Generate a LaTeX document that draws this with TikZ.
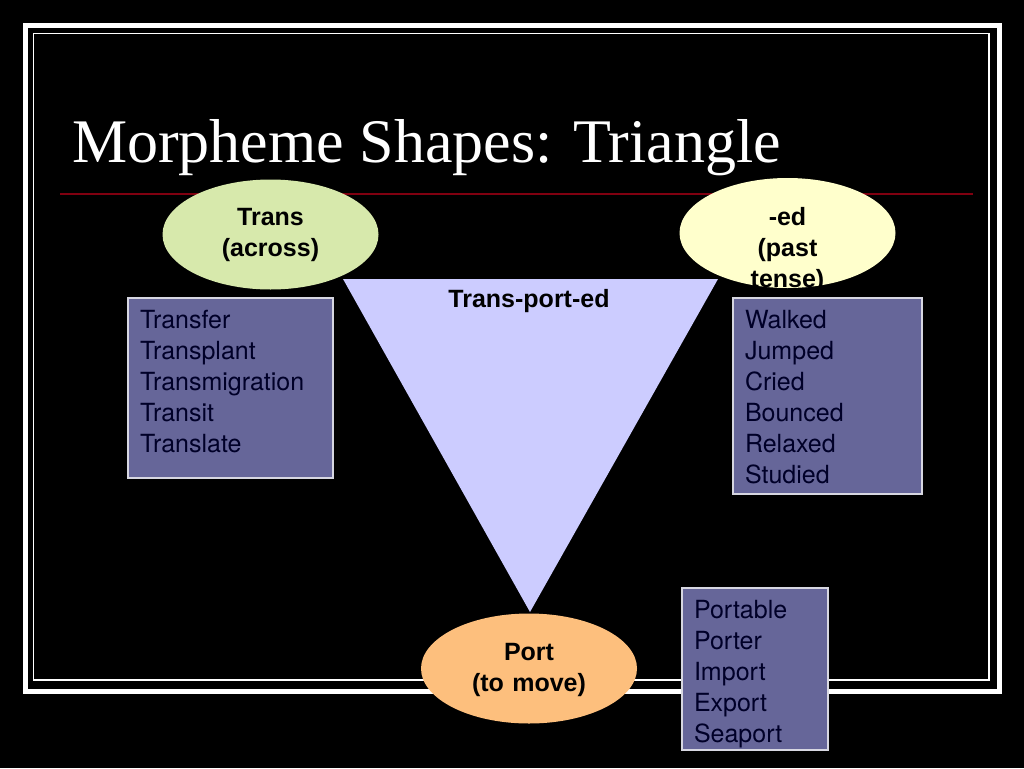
\documentclass[tikz,border=0pt]{standalone}
\usepackage{fontspec}
\setmainfont{Liberation Serif}
\newfontfamily\arialfont{Liberation Sans}
\newfontfamily\listfont{TeX Gyre Heros}
\usetikzlibrary{
  shapes.geometric
}
\definecolor{slidered}{RGB}{128,0,16}
\definecolor{transgreen}{RGB}{215,233,172}
\definecolor{edyellow}{RGB}{255,255,204}
\definecolor{portorange}{RGB}{253,191,125}
\definecolor{trililac}{RGB}{204,204,255}
\definecolor{listblue}{RGB}{102,102,153}
\definecolor{listedge}{RGB}{215,215,225}
\definecolor{listink}{RGB}{0,0,40}

\begin{document}
\begin{tikzpicture}[
  x=1pt, y=-1pt,
  every node/.style = {inner sep=0pt, outer sep=0pt},
  morph/.style = {shape=ellipse, minimum width=216pt, minimum height=110pt,
    text width=150pt, align=center, text height=0pt,
    font=\arialfont\bfseries\fontsize{25}{31}\selectfont},
  wordlist/.style = {shape=rectangle, anchor=north west,
    fill=listblue, text=listink, align=left, inner xsep=12pt,
    text height=30pt, font=\listfont\fontsize{25}{31}\selectfont},
  listframe/.style = {draw=listedge, line width=1.2pt}]
  % slide
  \fill[black] (0,0) rectangle (1024,768);
  \draw[white, line width=5pt] (25.5,25.5) rectangle (999,691);
  \draw[white, line width=1.4pt] (33.5,33.5) rectangle (989,680);
  \node[anchor=base west, text=white, font=\fontsize{62}{70}\selectfont]
    (title) at (72,162) {Morpheme Shapes: Triangle};
  \draw[slidered, line width=1.5pt] (60,194) -- (973,194);
  % triangle
  \coordinate (tl) at (343,279);
  \coordinate (tr) at (718,279);
  \coordinate (tip) at (530,612);
  \fill[trililac] (tl) -- (tr) -- (tip) -- cycle;
  \node[anchor=base, font=\arialfont\bfseries\fontsize{25}{31}\selectfont]
    (word) at (529,307) {Trans-port-ed};
  % morphemes
  \node[morph, fill=transgreen, text depth=19pt] (trans) at (270.5,234.5)
    {Trans\\(across)};
  \node[morph, fill=edyellow, text depth=16pt] (ed) at (787.5,233)
    {-ed\\(past\\tense)};
  \node[morph, fill=portorange, text depth=17pt] (port) at (529,668.5)
    {Port\\(to move)};
  % word lists
  \node[wordlist, text width=181pt, text depth=150pt] (transwords) at (128,298)
    {Transfer\\Transplant\\Transmigration\\Transit\\Translate};
  \node[wordlist, text width=165pt, text depth=166pt] (edwords) at (733,298)
    {Walked\\Jumped\\Cried\\Bounced\\Relaxed\\Studied};
  \node[wordlist, text width=122pt, text depth=132pt] (portwords) at (682,588)
    {Portable\\Porter\\Import\\Export\\Seaport};
  \foreach \n in {transwords, edwords, portwords}
    \draw[listframe] (\n.north west) rectangle (\n.south east);
\end{tikzpicture}
\end{document}
